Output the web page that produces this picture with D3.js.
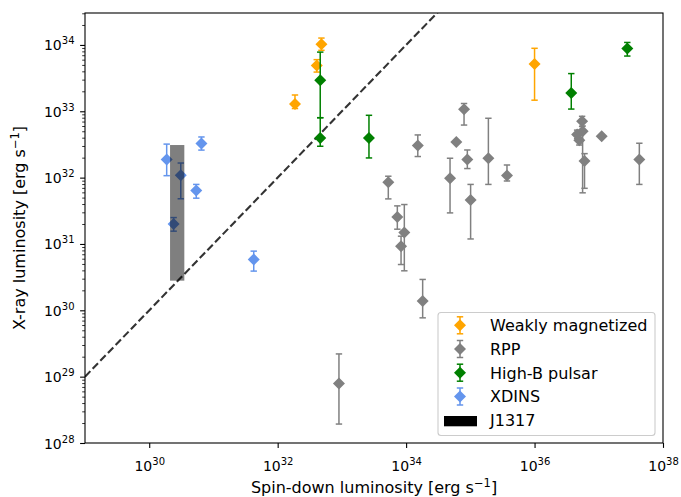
<!DOCTYPE html>
<html><head><meta charset="utf-8">
<script src="https://cdn.jsdelivr.net/npm/d3@7"></script>
<style>body{margin:0;background:#fff}svg{display:block;font-family:"DejaVu Sans",sans-serif}</style>
</head><body>
<svg id="c" width="681" height="497"></svg>
<script>
// [Lsd, Lx, Lx lower, Lx upper]
const weaklyMagnetized = [
  [1.86e32, 1.29e33, 1.10e33, 1.76e33],
  [4.80e32, 1.02e34, 8.3e33, 1.27e34],
  [4.06e32, 4.9e33, 3.9e33, 6.0e33],
  [1.0e36, 5.15e33, 1.47e33, 8.9e33]
];
const rpp = [
  [7.98e34, 1.07e33, 6.2e32, 1.31e33],
  [1.52e34, 3.04e32, 2.08e32, 4.4e32],
  [6.05e34, 3.45e32, 3.45e32, 3.45e32],
  [8.98e34, 1.88e32, 1.37e32, 2.61e32],
  [1.91e35, 1.96e32, 7.9e31, 7.85e32],
  [3.72e35, 1.08e32, 8.9e31, 1.55e32],
  [4.83e34, 9.8e31, 2.94e31, 1.96e32],
  [1.01e35, 4.6e31, 1.19e31, 7.9e31],
  [5.28e33, 8.5e31, 4.78e31, 1.05e32],
  [7.3e33, 2.56e31, 1.67e31, 3.75e31],
  [9.38e33, 1.49e31, 3.94e30, 3.93e31],
  [8.34e33, 9.27e30, 4.9e30, 1.31e31],
  [1.81e34, 1.38e30, 7.7e29, 2.92e30],
  [9.0e32, 7.9e28, 1.93e28, 2.2e29],
  [5.5e36, 7.06e32, 5.9e32, 8.4e32],
  [4.6e36, 4.46e32, 3.9e32, 5.2e32],
  [5.6e36, 5.0e32, 5.9e31, 6.0e32],
  [4.98e36, 3.66e32, 3.1e32, 4.3e32],
  [1.11e37, 4.2e32, 4.2e32, 4.2e32],
  [6.0e36, 1.78e32, 6.9e31, 2.3e32],
  [4.28e37, 1.88e32, 7.9e31, 3.3e32]
];
const highBPulsar = [
  [4.6e32, 2.93e33, 8.0e32, 7.8e33],
  [4.6e32, 3.96e32, 2.97e32, 8.0e32],
  [2.64e33, 3.96e32, 1.98e32, 8.7e32],
  [3.73e36, 1.89e33, 1.08e33, 3.7e33],
  [2.78e37, 8.8e33, 6.8e33, 1.09e34]
];
const xdins = [
  [1.87e30, 1.87e32, 1.07e32, 3.2e32],
  [3.1e30, 1.09e32, 4.8e31, 1.66e32],
  [6.5e30, 3.26e32, 2.6e32, 4.1e32],
  [5.4e30, 6.4e31, 4.9e31, 7.9e31],
  [2.4e30, 2.0e31, 1.56e31, 2.5e31],
  [4.24e31, 5.85e30, 3.9e30, 7.8e30]
];
// J1317 region: [Lsd min, Lsd max], [Lx min, Lx max]
const j1317Lsd = [2.11e30, 3.52e30];
const j1317Lx = [2.8e30, 3.1e32];
const xTickExps = [30, 32, 34, 36, 38];
const yTickExps = [28, 29, 30, 31, 32, 33, 34];
const seriesNames = ["Weakly magnetized", "RPP", "High-B pulsar", "XDINS"];
const seriesColors = ["orange", "gray", "green", "cornflowerblue"];
const seriesData = [weaklyMagnetized, rpp, highBPulsar, xdins];

const svg = d3.select("#c");
const L = 85, R = 663, T = 13, B = 443;
const x = d3.scaleLog().domain([1e29, 1e38]).range([L, R]);
const y = d3.scaleLog().domain([1e28, 3.03e34]).range([B, T]);

svg.append("clipPath").attr("id", "clip").append("rect")
  .attr("x", L).attr("y", T).attr("width", R - L).attr("height", B - T);
const plot = svg.append("g").attr("clip-path", "url(#clip)");

// equality line Lx = Lsd
plot.append("line")
  .attr("x1", x(1e29)).attr("y1", y(1e29))
  .attr("x2", x(1e38)).attr("y2", y(1e38))
  .attr("stroke", "#333").attr("stroke-width", 2.1)
  .attr("stroke-dasharray", "7.7,3.3");

const diamond = s => `M0,${-s}L${s},0L0,${s}L${-s},0Z`;

function drawErr(g, cx, ylo, yhi, col) {
  g.append("line").attr("x1", cx).attr("x2", cx).attr("y1", ylo).attr("y2", yhi)
    .attr("stroke", col).attr("stroke-width", 1.5);
  [ylo, yhi].forEach(v => g.append("line").attr("x1", cx - 3.2).attr("x2", cx + 3.2)
    .attr("y1", v).attr("y2", v).attr("stroke", col).attr("stroke-width", 1.5));
}

seriesData.forEach((data, i) => {
  const g = plot.append("g");
  const col = seriesColors[i];
  data.forEach(d => {
    if (d[2] !== d[3]) drawErr(g, x(d[0]), y(d[2]), y(d[3]), col);
    g.append("path").attr("d", diamond(6))
      .attr("transform", `translate(${x(d[0])},${y(d[1])})`).attr("fill", col);
  });
});

// J1317 box
plot.append("rect")
  .attr("x", x(j1317Lsd[0])).attr("width", x(j1317Lsd[1]) - x(j1317Lsd[0]))
  .attr("y", y(j1317Lx[1])).attr("height", y(j1317Lx[0]) - y(j1317Lx[1]))
  .attr("fill", "black").attr("fill-opacity", 0.5);

// axes
const xAxis = d3.axisBottom(x).tickValues(xTickExps.map(e => Math.pow(10, e)))
  .tickSize(4.9).tickPadding(4.9).tickFormat("");
const gx = svg.append("g").attr("transform", `translate(0,${B})`).call(xAxis);
gx.select(".domain").remove();
gx.selectAll(".tick line").attr("stroke-width", 1.1);

gx.selectAll(".tick").each(function(d, i) {
  const t = d3.select(this).append("text").attr("y", 28).attr("text-anchor", "middle")
    .attr("fill", "#000").attr("font-size", 14).attr("font-family", "DejaVu Sans");
  t.append("tspan").text("10");
  t.append("tspan").attr("font-size", 10).attr("dy", -6).text(xTickExps[i]);
});

const yMinor = [];
for (let e = 28; e <= 34; e++) for (let m = 2; m <= 9; m++) {
  const v = m * Math.pow(10, e);
  if (v <= y.domain()[1]) yMinor.push(v);
}
const gym = svg.append("g").attr("transform", `translate(${L},0)`)
  .call(d3.axisLeft(y).tickValues(yMinor).tickSize(2.8).tickFormat(""));
gym.select(".domain").remove();
gym.selectAll(".tick line").attr("stroke-width", 0.8);

const gy = svg.append("g").attr("transform", `translate(${L},0)`)
  .call(d3.axisLeft(y).tickValues(yTickExps.map(e => Math.pow(10, e))).tickSize(4.9).tickFormat(""));
gy.select(".domain").remove();
gy.selectAll(".tick line").attr("stroke-width", 1.1);
gy.selectAll(".tick").each(function(d, i) {
  const t = d3.select(this).append("text").attr("x", -10.5).attr("y", 5)
    .attr("text-anchor", "end").attr("fill", "#000").attr("font-size", 14)
    .attr("font-family", "DejaVu Sans");
  t.append("tspan").text("10");
  t.append("tspan").attr("font-size", 10).attr("dy", -6).text(yTickExps[i]);
});

// frame
svg.append("rect").attr("x", L).attr("y", T).attr("width", R - L).attr("height", B - T)
  .attr("fill", "none").attr("stroke", "#000").attr("stroke-width", 1.1);

// axis labels
const xl = svg.append("text").attr("x", (L + R) / 2).attr("y", 493).attr("text-anchor", "middle")
  .attr("font-size", 16);
xl.append("tspan").text("Spin-down luminosity [erg s");
xl.append("tspan").attr("dy", -6).attr("font-size", 11.5).text("\u22121");
xl.append("tspan").attr("dy", 6).text("]");

const yl = svg.append("text").attr("transform", `translate(25,${(T + B) / 2}) rotate(-90)`)
  .attr("text-anchor", "middle").attr("font-size", 16);
yl.append("tspan").text("X-ray luminosity [erg s");
yl.append("tspan").attr("dy", -6).attr("font-size", 11.5).text("\u22121");
yl.append("tspan").attr("dy", 6).text("]");

// legend
const lg = svg.append("g");
lg.append("rect").attr("x", 438).attr("y", 312.5).attr("width", 217).attr("height", 123)
  .attr("rx", 3).attr("fill", "white").attr("fill-opacity", 0.8)
  .attr("stroke", "#cccccc").attr("stroke-width", 1.1);
const rowY = [325.3, 349, 372.7, 396.5, 420.5];
seriesNames.forEach((n, i) => {
  const cy = rowY[i], col = seriesColors[i];
  const g = lg.append("g");
  drawErr(g, 460, cy + 8.5, cy - 8.5, col);
  g.append("path").attr("d", diamond(6)).attr("transform", `translate(460,${cy})`).attr("fill", col);
  lg.append("text").attr("x", 490).attr("y", cy + 5.8).attr("font-size", 16).text(n);
});
lg.append("rect").attr("x", 444).attr("y", 416).attr("width", 33).attr("height", 10.3).attr("fill", "black");
lg.append("text").attr("x", 490).attr("y", rowY[4] + 5.8).attr("font-size", 16).text("J1317");
</script>
</body></html>
